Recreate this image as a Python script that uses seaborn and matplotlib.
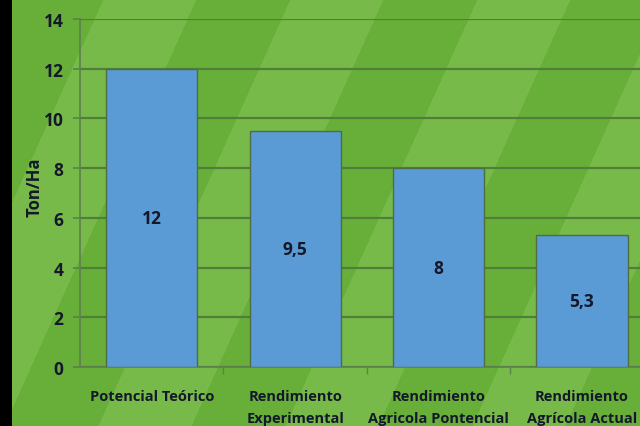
import numpy as np
import pandas as pd
import matplotlib
matplotlib.use("Agg")
import matplotlib.pyplot as plt
import seaborn as sns

# Yield data (Ton/Ha)
categories = ["Potencial Teórico", "Rendimiento\nExperimental",
              "Rendimiento\nAgricola Pontencial", "Rendimiento\nAgrícola Actual"]
values = [12, 9.5, 8, 5.3]
value_labels = ["12", "9,5", "8", "5,3"]
y_ticks = [0, 2, 4, 6, 8, 10, 12, 14]

sns.set_theme(style="white")
plt.rcParams["font.family"] = ["Open Sans", "DejaVu Sans"]
plt.rcParams["font.weight"] = "bold"

W, H = 640, 427
fig = plt.figure(figsize=(6.4, 4.27), dpi=100)

# Green slide background with soft diagonal bands
bg = fig.add_axes([0, 0, 1, 1], zorder=-10)
yy, xx = np.mgrid[0:H, 0:W]
u = xx + 0.45 * yy
dark = np.array([104, 175, 58]) / 255
light = np.array([120, 186, 73]) / 255
band = (((u - 290) % 187) < 93).astype(float)
img = dark[None, None, :] * (1 - band[..., None]) + light[None, None, :] * band[..., None]
img[:, :12, :] = 0  # black strip on the left edge
bg.imshow(img, extent=[0, W, H, 0], aspect="auto", interpolation="bilinear")
bg.set_xlim(0, W)
bg.set_ylim(H, 0)
bg.axis("off")

ax = fig.add_axes([80 / W, 1 - 368 / H, (653.7 - 80) / W, (368 - 20) / H])
ax.patch.set_alpha(0)

df = pd.DataFrame({"cat": categories, "val": values})
sns.barplot(data=df, x="cat", y="val", ax=ax, color="#5b9bd5", saturation=1,
            width=0.635, edgecolor="#4e6d45", linewidth=1.0, zorder=3)

grid_c = "#4f7f38"
ax.set_ylim(0, 14)
ax.set_yticks(y_ticks)
ax.yaxis.grid(True, color=grid_c, linewidth=1.6, zorder=0)
ax.set_axisbelow(True)
ax.set_xlim(-0.5, 3.5)

for s in ["top", "right"]:
    ax.spines[s].set_visible(False)
for s in ["left", "bottom"]:
    ax.spines[s].set_color("#5d8050")
    ax.spines[s].set_linewidth(1.2)

txt_c = "#14182a"
ax.tick_params(axis="y", which="major", length=5, width=1.2, color="#5d8050",
               labelsize=12.5, labelcolor=txt_c, pad=7, left=True)
ax.set_xticks(range(len(categories)))
ax.set_xticklabels(categories, fontsize=10.5, fontweight="bold", color=txt_c,
                   linespacing=1.75, va="top")
ax.tick_params(axis="x", length=0, pad=16)
# small separators between categories
ax.set_xticks([0.5, 1.5, 2.5], minor=True)
ax.tick_params(axis="x", which="minor", length=5, width=1.0, color="#5d8050", bottom=True)

for lbl in ax.get_yticklabels():
    lbl.set_fontweight("bold")

ax.set_xlabel("")
ax.set_ylabel("Ton/Ha", fontsize=12, fontweight="bold", color=txt_c)
ax.yaxis.set_label_coords(-0.063, 0.52)

for i, (v, lab) in enumerate(zip(values, value_labels)):
    ax.text(i, v / 2, lab, ha="center", va="center", fontsize=12.5,
            fontweight="bold", color=txt_c, zorder=5)

fig.savefig("out.png", dpi=100)
